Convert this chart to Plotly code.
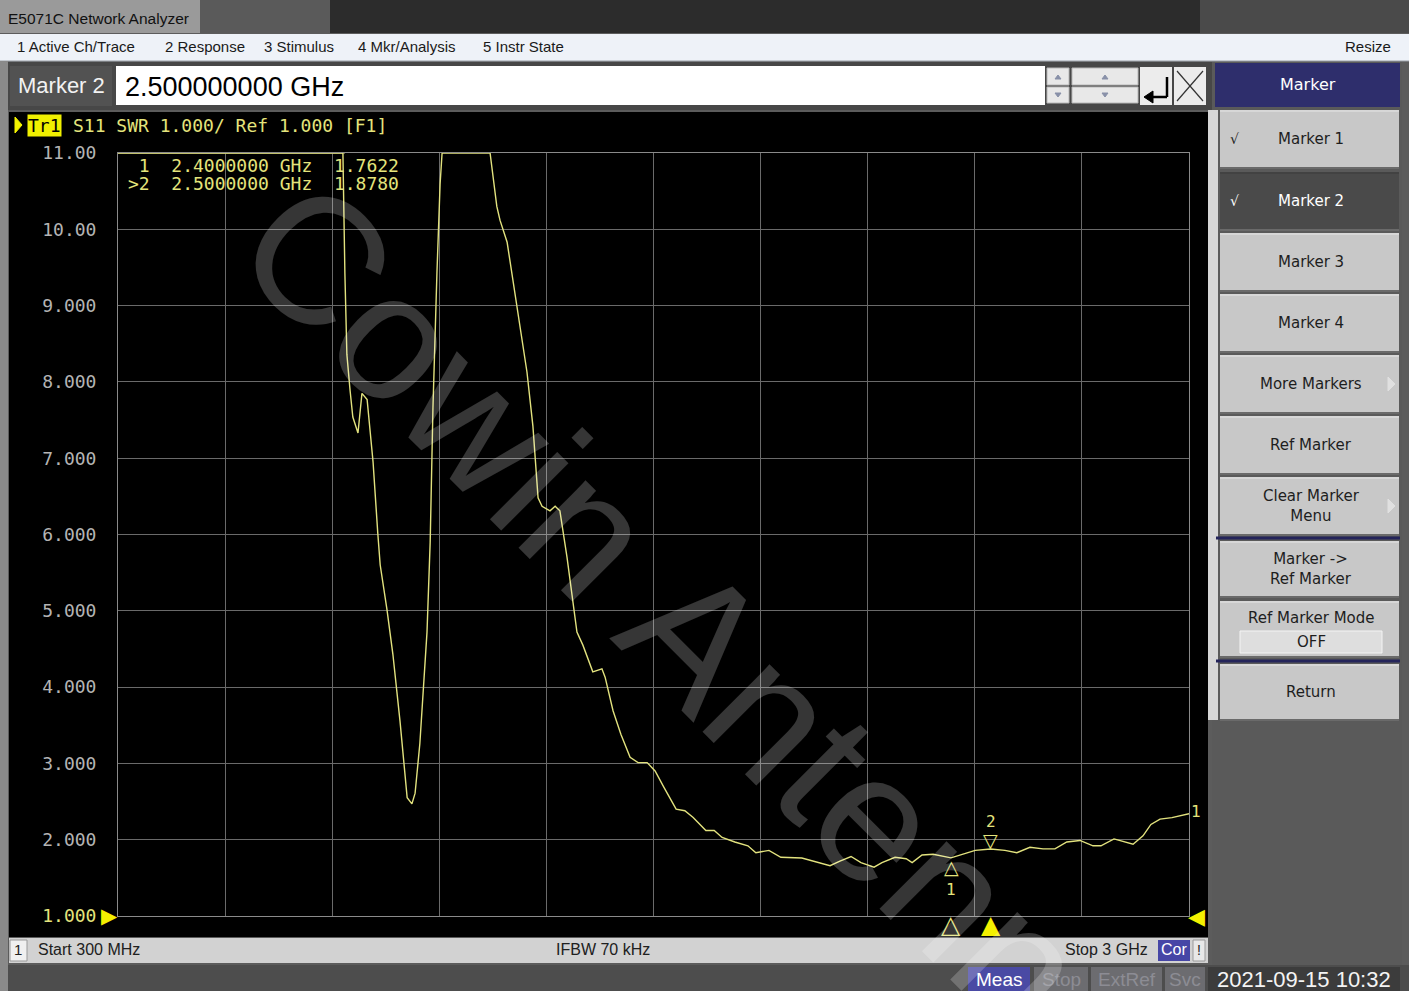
import plotly.graph_objects as go

# ---------------- data ----------------
freq_ghz = [0.300, 0.867, 0.872, 0.877, 0.885, 0.892, 0.905, 0.915, 0.928, 0.935,
            0.943, 0.955, 0.961, 0.978, 0.993, 1.011, 1.029, 1.041, 1.049, 1.061,
            1.079, 1.087, 1.094, 1.104, 1.112, 1.117, 1.238, 1.255, 1.263, 1.281,
            1.296, 1.313, 1.331, 1.346, 1.359, 1.369, 1.389, 1.402, 1.414, 1.432,
            1.445, 1.457, 1.472, 1.497, 1.520, 1.528, 1.548, 1.568, 1.591, 1.611,
            1.634, 1.654, 1.676, 1.707, 1.729, 1.750, 1.782, 1.803, 1.823, 1.855,
            1.888, 1.908, 1.941, 1.971, 2.024, 2.067, 2.095, 2.120, 2.148, 2.173,
            2.206, 2.226, 2.259, 2.287, 2.302, 2.327, 2.355, 2.400, 2.433, 2.461,
            2.500, 2.536, 2.566, 2.599, 2.632, 2.662, 2.692, 2.725, 2.758, 2.778,
            2.811, 2.836, 2.859, 2.884, 2.904, 2.927, 2.957, 3.000]
swr = [11.0, 11.0, 9.42, 8.36, 7.89, 7.54, 7.33, 7.85, 7.77, 7.42,
       6.95, 6.01, 5.60, 5.02, 4.43, 3.55, 2.55, 2.47, 2.61, 3.26,
       4.72, 5.90, 7.66, 9.42, 10.59, 11.0, 11.0, 10.30, 10.12, 9.83,
       9.30, 8.71, 8.13, 7.42, 6.48, 6.37, 6.31, 6.37, 6.31, 5.70,
       5.20, 4.72, 4.55, 4.20, 4.24, 4.13, 3.69, 3.38, 3.08, 3.01,
       3.01, 2.90, 2.69, 2.40, 2.38, 2.29, 2.12, 2.12, 2.03, 1.97,
       1.92, 1.83, 1.86, 1.77, 1.76, 1.70, 1.66, 1.72, 1.78, 1.70,
       1.64, 1.70, 1.77, 1.75, 1.70, 1.80, 1.81, 1.7622, 1.81, 1.86,
       1.878, 1.86, 1.83, 1.90, 1.88, 1.88, 1.97, 1.99, 1.92, 1.92,
       2.01, 1.97, 1.94, 2.05, 2.20, 2.27, 2.29, 2.34]
assert len(freq_ghz) == len(swr)

marker_freq = [2.4, 2.5]
marker_val = [1.7622, 1.8780]
marker_names = ["1", "2"]

y_ticks = [1, 2, 3, 4, 5, 6, 7, 8, 9, 10, 11]
y_ticktext = ["1.000", "2.000", "3.000", "4.000", "5.000", "6.000",
              "7.000", "8.000", "9.000", "10.00", "11.00"]

table_rows = [" 1  2.4000000 GHz  1.7622", ">2  2.5000000 GHz  1.8780"]
menu_items = ["1 Active Ch/Trace", "2 Response", "3 Stimulus", "4 Mkr/Analysis", "5 Instr State"]
softkeys = ["Marker 1", "Marker 2", "Marker 3", "Marker 4", "More Markers", "Ref Marker",
            "Clear Marker<br>Menu", "Marker -&gt;<br>Ref Marker", "Ref Marker Mode", "Return"]

# ---------------- layout helpers ----------------
L, T, R, B = 118, 153, 1189, 916
W, H = R - L, B - T


def PX(x):
    return (x - L) / W


def PY(y):
    return (B - y) / H


shapes = []
annots = []

MONO = "DejaVu Sans Mono, monospace"
SANS = "Liberation Sans, Arial, sans-serif"
UI = "DejaVu Sans, Verdana, sans-serif"
YEL = "#e4e47c"


def rect(x0, y0, x1, y1, fill, line=None, lw=1, layer="below"):
    shapes.append(dict(type="rect", xref="paper", yref="paper",
                       x0=PX(x0), x1=PX(x1), y0=PY(y1), y1=PY(y0),
                       fillcolor=fill, line=dict(color=line or fill, width=lw if line else 0),
                       layer=layer))


def line(x0, y0, x1, y1, color, lw=1, layer="below"):
    shapes.append(dict(type="line", xref="paper", yref="paper",
                       x0=PX(x0), x1=PX(x1), y0=PY(y0), y1=PY(y1),
                       line=dict(color=color, width=lw), layer=layer))


def path(pts, fill, color=None, layer="below"):
    d = "M " + " L ".join(f"{PX(x)},{PY(y)}" for x, y in pts) + " Z"
    shapes.append(dict(type="path", xref="paper", yref="paper", path=d,
                       fillcolor=fill, line=dict(color=color or fill, width=1), layer=layer))


def text(x, y, s, size, color, family=UI, xa="left", ya="middle", bg=None, **kw):
    a = dict(xref="paper", yref="paper", x=PX(x), y=PY(y), text=s, showarrow=False,
             xanchor=xa, yanchor=ya, font=dict(size=size, color=color, family=family))
    if bg:
        a["bgcolor"] = bg
    a.update(kw)
    annots.append(a)


# ---------------- window chrome ----------------
rect(0, 0, 1409, 33, "#2c2c2c")
rect(0, 0, 200, 33, "#9a9a9a")
rect(200, 0, 330, 33, "#5a5a5a")
rect(1200, 0, 1409, 33, "#4a4a4a")
text(6, 18, "E5071C Network Analyzer", 15.5, "#111111", SANS)

rect(0, 34, 1409, 61, "#eef2f8")
line(0, 61, 1409, 61, "#9aa0a8", 1)
menu_x = [15, 163, 262, 356, 481]
for mx, s in zip(menu_x, menu_items):
    text(mx, 47, s, 15, "#1a1a1a", SANS)
text(1393, 47, "Resize", 15, "#1a1a1a", SANS, xa="right")

# left outer strip
rect(0, 61, 8, 991, "#8a8a8a")

# entry row
rect(8, 62, 1212, 110, "#474747")
rect(10, 66, 112, 106, "#525252")
text(61, 86, "Marker 2", 22, "#f2f2f2", SANS, xa="center")
rect(116, 66, 1045, 105, "#ffffff")
text(123, 87, "2.500000000 GHz", 27, "#000000", SANS)
# spin buttons
for (x0, x1) in [(1047, 1069), (1072, 1138)]:
    rect(x0, 68, x1, 85, "#e8e8e8", "#b8b8b8")
    rect(x0, 87, x1, 103, "#e8e8e8", "#b8b8b8")
    cx = (x0 + x1) / 2
    path([(cx - 3, 79), (cx + 3, 79), (cx, 75)], "#8890a8")
    path([(cx - 3, 93), (cx + 3, 93), (cx, 97)], "#8890a8")
rect(1140, 67, 1172, 105, "#ececec")
line(1167, 77, 1167, 97, "#000000", 2.5)
line(1167, 97, 1152, 97, "#000000", 2.5)
path([(1144, 97), (1153, 91), (1153, 103)], "#000000")
rect(1174, 67, 1206, 105, "#ececec")
line(1177, 71, 1203, 101, "#333333", 1.2)
line(1177, 101, 1203, 71, "#333333", 1.2)

# ---------------- right soft-key panel ----------------
rect(1212, 62, 1402, 966, "#5a5a5a")
rect(1215, 63, 1400, 107, "#2e2e6c")
text(1308, 85, "Marker", 16, "#ffffff", UI, xa="center")
rect(1208, 110, 1218, 720, "#d6d6d6")

keys_y = [(110, 168), (172, 230), (233, 291), (294, 352), (355, 413), (416, 474),
          (477, 535), (541, 597), (601, 657), (664, 720)]
for i, ((y0, y1), lab) in enumerate(zip(keys_y, softkeys)):
    sel = (i == 1)
    fill = "#4a4a4a" if sel else "#c8c8c8"
    rect(1220, y0, 1399, y1, fill)
    line(1220, y1, 1399, y1, "#6a6a6a", 2)
    line(1220, y0 + 1, 1399, y0 + 1, "#3a3a3a" if sel else "#e6e6e6", 1)
    col = "#ffffff" if sel else "#1e1e1e"
    if lab == "Ref Marker Mode":
        text(1311, 618, lab, 15, col, UI, xa="center")
        rect(1240, 631, 1382, 653, "#dedede", "#f4f4f4")
        text(1311, 642, "OFF", 15, col, UI, xa="center")
    else:
        text(1311, (y0 + y1) / 2, lab, 15, col, UI, xa="center")
    if i in (0, 1):
        text(1228, (y0 + y1) / 2, "√", 14, col, UI)
    if lab in ("More Markers", "Clear Marker<br>Menu"):
        path([(1388, (y0 + y1) / 2 - 7), (1388, (y0 + y1) / 2 + 7), (1395, (y0 + y1) / 2)], "#e0e0e0")
line(1216, 538, 1400, 538, "#24245a", 3)
line(1216, 661, 1400, 661, "#24245a", 3)

# ---------------- black measurement panel ----------------
rect(9, 112, 1208, 937, "#000000")
path([(15, 117), (15, 133), (22, 125)], "#f4f400")
text(27, 125, "Tr1", 18, "#000000", MONO, bg="#f0f000", borderpad=0)
text(71, 125, "S11 SWR 1.000/ Ref 1.000 [F1]", 18, YEL, MONO)

# marker readout table
line(L, T, 345, T, "#b8b87a", 1.2)
for k, row in enumerate(table_rows):
    text(126, 166 + 18 * k, row.replace(" ", "&nbsp;"), 18, YEL, MONO)

# ---------------- status bars ----------------
rect(9, 938, 1208, 963, "#d2d2d2")
rect(10, 940, 27, 961, "#f0f0f0", "#9a9a9a")
text(18, 950, "1", 15, "#202020", SANS, xa="center")
text(36, 950, "Start 300 MHz", 16, "#202020", SANS)
text(603, 950, "IFBW 70 kHz", 16, "#202020", SANS, xa="center")
text(1150, 950, "Stop 3 GHz", 16, "#202020", SANS, xa="right")
rect(1158, 940, 1190, 961, "#4646a6")
text(1174, 950, "Cor", 16, "#ffffff", SANS, xa="center")
rect(1193, 940, 1205, 961, "#e8e8e8", "#9a9a9a")
text(1199, 950, "!", 14, "#202020", SANS, xa="center")

rect(8, 965, 1409, 991, "#4d4d4d")
rect(968, 967, 1030, 991, "#4a4aa4")
text(999, 979, "Meas", 19, "#ffffff", SANS, xa="center")
for (x0, x1, s) in [(1034, 1088, "Stop"), (1091, 1162, "ExtRef"), (1165, 1205, "Svc")]:
    rect(x0, 967, x1, 991, "#6c6c70")
    text((x0 + x1) / 2, 979, s, 19, "#8c8c94", SANS, xa="center")
rect(1208, 967, 1400, 991, "#3c3c3c")
text(1304, 979, "2021-09-15 10:32", 22, "#f4f4f4", SANS, xa="center")

# ---------------- chart annotations tied to data ----------------
for f, v, n in zip(marker_freq, marker_val, marker_names):
    if n == "1":
        annots.append(dict(x=f, y=v, xref="x", yref="y", text="△", showarrow=False,
                           yanchor="top", yshift=4, font=dict(size=19, color=YEL, family=UI)))
        annots.append(dict(x=f, y=v, xref="x", yref="y", text=n, showarrow=False,
                           yanchor="top", yshift=-20, font=dict(size=16, color=YEL, family=MONO)))
        annots.append(dict(x=f, y=1, xref="x", yref="y", text="△", showarrow=False,
                           yanchor="top", yshift=8, font=dict(size=25, color=YEL, family=UI)))
    else:
        annots.append(dict(x=f, y=v, xref="x", yref="y", text="▽", showarrow=False,
                           yanchor="bottom", yshift=-4, font=dict(size=19, color=YEL, family=UI)))
        annots.append(dict(x=f, y=v, xref="x", yref="y", text=n, showarrow=False,
                           yanchor="bottom", yshift=16, font=dict(size=16, color=YEL, family=MONO)))
        annots.append(dict(x=f, y=1, xref="x", yref="y", text="▲", showarrow=False,
                           yanchor="top", yshift=8, font=dict(size=25, color="#f4f000", family=UI)))

annots.append(dict(x=freq_ghz[-1], y=swr[-1], xref="x", yref="y", text="1", showarrow=False,
                   xanchor="left", xshift=0, yshift=2, font=dict(size=16, color=YEL, family=MONO)))
annots.append(dict(x=0, y=1, xref="paper", yref="y", text="▶", showarrow=False,
                   xanchor="right", xshift=2, font=dict(size=21, color="#f4f000", family=UI)))
annots.append(dict(x=1, y=1, xref="paper", yref="y", text="◀", showarrow=False,
                   xanchor="left", xshift=-3, font=dict(size=22, color="#f4f000", family=UI)))

# watermark
annots.append(dict(xref="paper", yref="paper", x=PX(700), y=PY(640), text="Cowin Antenna",
                   showarrow=False, textangle=45, xanchor="center", yanchor="middle",
                   font=dict(size=180, color="rgba(255,255,255,0.21)",
                             family="Liberation Sans, Arial, sans-serif")))

# ---------------- figure ----------------
fig = go.Figure()
fig.add_trace(go.Scatter(x=freq_ghz, y=swr, mode="lines",
                         line=dict(color="#e2e27e", width=1.4), hoverinfo="skip"))

fig.update_layout(
    width=1409, height=991,
    margin=dict(l=L, r=1409 - R, t=T, b=991 - B, pad=0),
    paper_bgcolor="#5c5c5c", plot_bgcolor="#000000",
    showlegend=False,
    shapes=shapes, annotations=annots,
    xaxis=dict(range=[0.3, 3.0], tick0=0.3, dtick=0.27, showticklabels=False,
               showgrid=True, gridcolor="#6a6a6a", gridwidth=1, zeroline=False,
               showline=True, linecolor="#8a8a8a", linewidth=1, mirror=True, ticks=""),
    yaxis=dict(range=[1, 11], tickvals=y_ticks,
               ticktext=[f"<span style='color:{YEL}'>{t}</span>" if t == "1.000" else t
                         for t in y_ticktext],
               tickfont=dict(family=MONO, size=18, color="#b4b4b4"),
               ticklabelstandoff=17,
               showgrid=True, gridcolor="#6a6a6a", gridwidth=1, zeroline=False,
               showline=True, linecolor="#8a8a8a", linewidth=1, mirror=True, ticks=""),
)

fig.write_html("out.html", config={"displayModeBar": False},
               post_script="document.body.style.margin='0';document.body.style.overflow='hidden';")
